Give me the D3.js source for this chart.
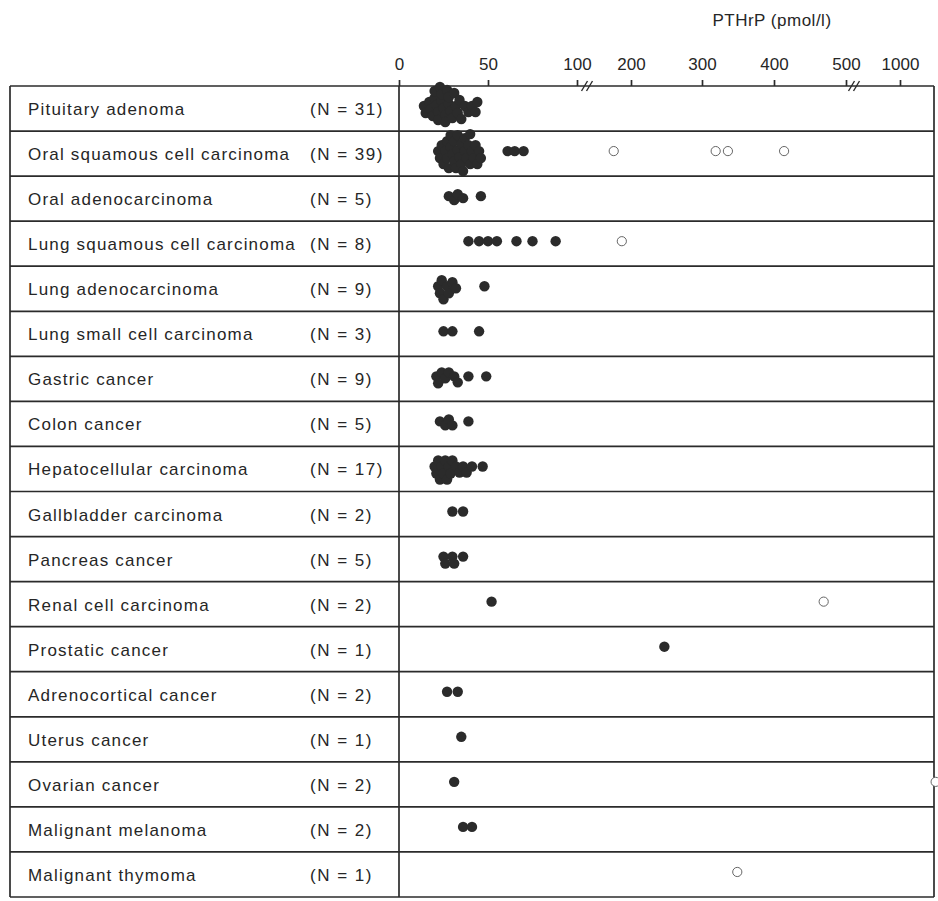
<!DOCTYPE html>
<html>
<head>
<meta charset="utf-8">
<script src="https://cdn.jsdelivr.net/npm/d3@7/dist/d3.min.js"></script>
<style>
  body { margin: 0; background: #fff; }
  text { font-family: "Liberation Sans", Arial, Helvetica, sans-serif; fill: #262626; }
</style>
</head>
<body>
<svg id="chart" width="938" height="901"></svg>
<script>
// Tumour types, their sample sizes and plasma PTHrP values (pmol/l)
const categories = [
  "Pituitary adenoma",
  "Oral squamous cell carcinoma",
  "Oral adenocarcinoma",
  "Lung squamous cell carcinoma",
  "Lung adenocarcinoma",
  "Lung small cell carcinoma",
  "Gastric cancer",
  "Colon cancer",
  "Hepatocellular carcinoma",
  "Gallbladder carcinoma",
  "Pancreas cancer",
  "Renal cell carcinoma",
  "Prostatic cancer",
  "Adrenocortical cancer",
  "Uterus cancer",
  "Ovarian cancer",
  "Malignant melanoma",
  "Malignant thymoma"
];
const counts = [31, 39, 5, 8, 9, 3, 9, 5, 17, 2, 5, 2, 1, 2, 1, 2, 2, 1];

// Filled markers
const filledValues = [
  [14, 15, 17, 18, 19, 20, 20, 21, 22, 22, 23, 24, 24, 25, 26, 26, 27, 28, 28, 29, 30, 31, 32, 33, 34, 35, 37, 39, 41, 43, 44],
  [22, 23, 24, 25, 26, 27, 27, 28, 29, 29, 30, 31, 31, 32, 33, 33, 34, 35, 35, 36, 37, 37, 38, 39, 40, 40, 41, 42, 43, 44, 45, 46, 61, 65, 70],
  [28, 31, 33, 36, 46],
  [39, 45, 50, 55, 66, 75, 88],
  [22, 23, 24, 25, 27, 28, 30, 32, 48],
  [25, 30, 45],
  [21, 22, 24, 26, 28, 31, 33, 39, 49],
  [23, 26, 28, 30, 39],
  [20, 21, 22, 23, 24, 25, 26, 27, 28, 29, 30, 32, 34, 36, 38, 41, 47],
  [30, 36],
  [25, 26, 30, 31, 36],
  [52],
  [247],
  [27, 33],
  [35],
  [31],
  [36, 41],
  []
];
// Open markers
const openValues = [
  [], [168, 319, 336, 414], [], [183], [], [], [], [], [], [], [],
  [469], [], [], [], [1330], [], [349]
];

const tickValues = [0, 50, 100, 200, 300, 400, 500, 1000];
const scaleBreaks = [0, 100, 200, 300, 400, 500, 1000];
const axisTitle = "PTHrP (pmol/l)";

const svg = d3.select("#chart");
const INK = "#2b2b2b";

const frameLeft = 10, divider = 399, frameRight = 934, frameTop = 86, frameBottom = 897;

// Piecewise scale: 0–100 stretched, 200–500 compressed, 1000 at the end
const x = d3.scaleLinear()
  .domain(scaleBreaks)
  .range([divider, 577, 631, 702, 774, 846, 900]);

const y = d3.scaleBand()
  .domain(categories)
  .range([frameTop, frameBottom])
  .paddingInner(0);

// Table frame
const frame = svg.append("g")
  .attr("fill", "none")
  .attr("stroke", INK)
  .attr("stroke-width", 1.7);

const rowEdges = categories.map(c => y(c)).concat([frameBottom]);
frame.selectAll("line.row")
  .data(rowEdges)
  .join("line")
  .attr("class", "row")
  .attr("x1", frameLeft).attr("x2", frameRight)
  .attr("y1", d => d).attr("y2", d => d);

[frameLeft, divider, frameRight].forEach(vx => {
  frame.append("line").attr("x1", vx).attr("x2", vx).attr("y1", frameTop).attr("y2", frameBottom);
});

// Top axis
const axis = svg.append("g")
  .attr("transform", `translate(0,${frameTop})`)
  .call(d3.axisTop(x).tickValues(tickValues).tickFormat(d3.format("d"))
    .tickSize(6).tickPadding(10).tickSizeOuter(0));
axis.select(".domain").remove();
axis.selectAll(".tick line").attr("stroke", INK).attr("stroke-width", 1.7);
axis.selectAll(".tick text")
  .attr("font-size", 17)
  .attr("fill", "#262626")
  .style("font-family", '"Liberation Sans", Arial, sans-serif');

// Scale-break marks on the axis
const breaks = [x(100) + 10, x(500) + 8];
breaks.forEach(bx => {
  [-2.5, 2.5].forEach(off => {
    svg.append("line")
      .attr("x1", bx + off - 3).attr("y1", frameTop + 5)
      .attr("x2", bx + off + 3).attr("y2", frameTop - 5)
      .attr("stroke", INK).attr("stroke-width", 1.4);
  });
});

svg.append("text")
  .attr("x", 772).attr("y", 26)
  .attr("text-anchor", "middle")
  .attr("font-size", 17)
  .attr("letter-spacing", 0.5)
  .text(axisTitle);

// Row labels
const labels = svg.append("g");
categories.forEach((c, i) => {
  const cy = y(c) + y.bandwidth() / 2;
  labels.append("text")
    .attr("x", 28).attr("y", cy + 6.5)
    .attr("font-size", 17)
    .attr("letter-spacing", 1.2)
    .text(c);
  labels.append("text")
    .attr("x", 310).attr("y", cy + 6.5)
    .attr("font-size", 17)
    .attr("letter-spacing", 1.5)
    .text(`(N = ${counts[i]})`);
});

// Compact swarm: points keep their x, and are nudged vertically
// until they sit at least minD px from every point already placed.
function swarm(vals, minD) {
  const placed = [];
  vals.slice().sort((a, b) => a - b).forEach(v => {
    const px = x(v);
    let dy = 0;
    for (let k = 0; k < 80; k++) {
      const cand = k === 0 ? 0 : (k % 2 ? Math.ceil(k / 2) : -k / 2);
      if (placed.every(p => (p.x - px) ** 2 + (p.dy - cand) ** 2 >= minD * minD)) { dy = cand; break; }
    }
    placed.push({ x: px, dy, v });
  });
  return placed;
}

const R = 5.2;
const dots = svg.append("g");
categories.forEach((c, i) => {
  const cy = y(c) + y.bandwidth() / 2 - 2.5;
  const pts = swarm(filledValues[i], 6.5);
  dots.append("g").selectAll("circle")
    .data(pts)
    .join("circle")
    .attr("cx", d => d.x)
    .attr("cy", d => cy + d.dy)
    .attr("r", R)
    .attr("fill", INK);
  dots.append("g").selectAll("circle")
    .data(openValues[i])
    .join("circle")
    .attr("cx", d => x(d))
    .attr("cy", cy)
    .attr("r", 4.6)
    .attr("fill", "#fff")
    .attr("stroke", "#666")
    .attr("stroke-width", 1);
});
</script>
</body>
</html>
